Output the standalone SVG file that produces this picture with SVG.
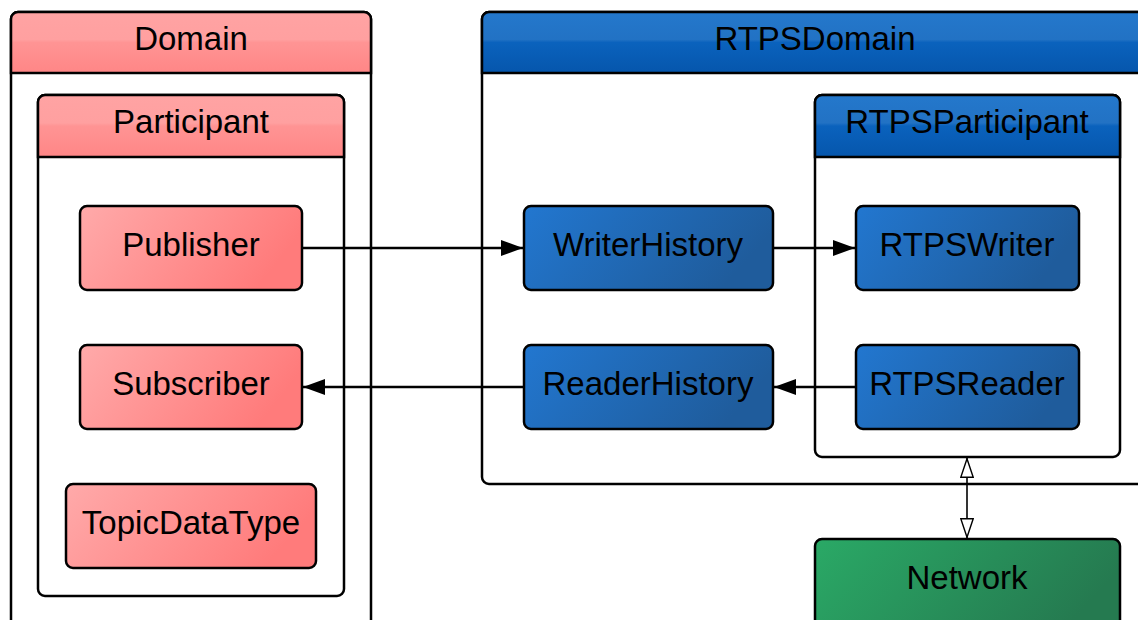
<svg xmlns="http://www.w3.org/2000/svg" width="1138" height="620" viewBox="0 0 1138 620">
<defs>
<linearGradient id="pinkNode" x1="0" y1="0" x2="1" y2="0.3"><stop offset="0" stop-color="#ffaaaa"/><stop offset="1" stop-color="#ff7b7b"/></linearGradient>
<linearGradient id="pinkHead" x1="0" y1="0" x2="0" y2="1"><stop offset="0" stop-color="#ffa3a3"/><stop offset="0.45" stop-color="#ffa0a0"/><stop offset="0.5" stop-color="#ff9494"/><stop offset="1" stop-color="#ff8686"/></linearGradient>
<linearGradient id="blueNode" x1="0" y1="0" x2="1" y2="0.3"><stop offset="0" stop-color="#2277d0"/><stop offset="1" stop-color="#1f5c9c"/></linearGradient>
<linearGradient id="blueHead" x1="0" y1="0" x2="0" y2="1"><stop offset="0" stop-color="#2478cc"/><stop offset="0.45" stop-color="#2272c4"/><stop offset="0.5" stop-color="#0a62bd"/><stop offset="1" stop-color="#0656ac"/></linearGradient>
<linearGradient id="greenNode" x1="0" y1="0" x2="1" y2="0.3"><stop offset="0" stop-color="#2aa966"/><stop offset="1" stop-color="#257a50"/></linearGradient>
<marker id="fill" viewBox="0 0 22 16" refX="22" refY="8" markerWidth="22" markerHeight="16" markerUnits="userSpaceOnUse" orient="auto"><path d="M0,0 L22,8 L0,16 Z" fill="#000"/></marker>
<marker id="open" viewBox="0 0 20 14" refX="20" refY="7" markerWidth="20" markerHeight="14" markerUnits="userSpaceOnUse" orient="auto"><path d="M0.7,0.8 L19.3,7 L0.7,13.2 Z" fill="#fff" stroke="#000" stroke-width="1.4"/></marker>
<marker id="openStart" viewBox="0 0 20 14" refX="0" refY="7" markerWidth="20" markerHeight="14" markerUnits="userSpaceOnUse" orient="auto"><path d="M19.3,0.8 L0.7,7 L19.3,13.2 Z" fill="#fff" stroke="#000" stroke-width="1.4"/></marker>
</defs>
<style>
.box{stroke:#000;stroke-width:2.5}
.frame{fill:#fff;stroke:#000;stroke-width:2.5}
text{font-family:"Liberation Sans",Arial,sans-serif;font-size:33px;fill:#000;text-anchor:middle;dominant-baseline:central}
.conn{stroke:#000;stroke-width:2.5;fill:none}
</style>
<rect width="1138" height="620" fill="#fff"/>

<g id="Domain">
<rect class="frame" x="11" y="12" width="360" height="620" rx="7"/>
<path d="M11,73 V19 a7,7 0 0 1 7,-7 H364 a7,7 0 0 1 7,7 V73 Z" fill="url(#pinkHead)" stroke="#000" stroke-width="2.5"/>
<text x="191" y="38">Domain</text>
</g>

<g id="Participant">
<rect class="frame" x="38" y="95" width="306" height="501" rx="7"/>
<path d="M38,157 V102 a7,7 0 0 1 7,-7 H337 a7,7 0 0 1 7,7 V157 Z" fill="url(#pinkHead)" stroke="#000" stroke-width="2.5"/>
<text x="191" y="121">Participant</text>
</g>

<g id="Publisher">
<rect class="box" x="80" y="206" width="222" height="84" rx="7" fill="url(#pinkNode)"/>
<text x="191" y="244">Publisher</text>
</g>
<g id="Subscriber">
<rect class="box" x="80" y="345" width="222" height="84" rx="7" fill="url(#pinkNode)"/>
<text x="191" y="383">Subscriber</text>
</g>
<g id="TopicDataType">
<rect class="box" x="66" y="484" width="250" height="84" rx="7" fill="url(#pinkNode)"/>
<text x="191" y="522">TopicDataType</text>
</g>

<g id="RTPSDomain">
<rect class="frame" x="482" y="12" width="680" height="472" rx="7"/>
<path d="M482,73 V19 a7,7 0 0 1 7,-7 H1162 V73 Z" fill="url(#blueHead)" stroke="#000" stroke-width="2.5"/>
<text x="815" y="38">RTPSDomain</text>
</g>

<g id="RTPSParticipant">
<rect class="frame" x="815" y="95" width="305" height="362" rx="7"/>
<path d="M815,157 V102 a7,7 0 0 1 7,-7 H1113 a7,7 0 0 1 7,7 V157 Z" fill="url(#blueHead)" stroke="#000" stroke-width="2.5"/>
<text x="967" y="121">RTPSParticipant</text>
</g>

<g id="WriterHistory">
<rect class="box" x="524" y="206" width="249" height="84" rx="7" fill="url(#blueNode)"/>
<text x="648" y="244">WriterHistory</text>
</g>
<g id="ReaderHistory">
<rect class="box" x="524" y="345" width="249" height="84" rx="7" fill="url(#blueNode)"/>
<text x="648" y="383">ReaderHistory</text>
</g>
<g id="RTPSWriter">
<rect class="box" x="856" y="206" width="223" height="84" rx="7" fill="url(#blueNode)"/>
<text x="967" y="244">RTPSWriter</text>
</g>
<g id="RTPSReader">
<rect class="box" x="856" y="345" width="223" height="84" rx="7" fill="url(#blueNode)"/>
<text x="967" y="383">RTPSReader</text>
</g>

<g id="Network">
<rect class="box" x="815" y="539" width="305" height="100" rx="7" fill="url(#greenNode)"/>
<text x="967" y="577">Network</text>
</g>

<g id="connectors">
<line class="conn" x1="302" y1="248" x2="523" y2="248" marker-end="url(#fill)"/>
<line class="conn" x1="773" y1="248" x2="855" y2="248" marker-end="url(#fill)"/>
<line class="conn" x1="856" y1="387" x2="774" y2="387" marker-end="url(#fill)"/>
<line class="conn" x1="524" y1="387" x2="303" y2="387" marker-end="url(#fill)"/>
<line x1="967" y1="458" x2="967" y2="538" stroke="#000" stroke-width="1.6" marker-start="url(#openStart)" marker-end="url(#open)"/>
</g>
</svg>
